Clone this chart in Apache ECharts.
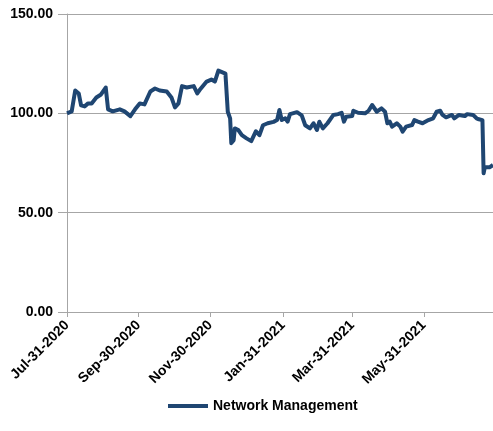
<!DOCTYPE html>
<html>
<head>
<meta charset="utf-8">
<script src="https://cdn.jsdelivr.net/npm/echarts@6/dist/echarts.min.js"></script>
<style>
  html, body { margin: 0; padding: 0; background: #fff; }
  #chart { width: 493px; height: 431px; }
</style>
</head>
<body>
<div id="chart"></div>
<script>
const seriesName = 'Network Management';

const dates = [
  '2020-07-31', '2020-08-04', '2020-08-07', '2020-08-10', '2020-08-12', '2020-08-15',
  '2020-08-18', '2020-08-21', '2020-08-25', '2020-08-29', '2020-09-02', '2020-09-04',
  '2020-09-08', '2020-09-14', '2020-09-18', '2020-09-23', '2020-09-27', '2020-10-01',
  '2020-10-05', '2020-10-10', '2020-10-14', '2020-10-18', '2020-10-24', '2020-10-28',
  '2020-10-31', '2020-11-03', '2020-11-06', '2020-11-10', '2020-11-16', '2020-11-19',
  '2020-11-21', '2020-11-27', '2020-12-01', '2020-12-04', '2020-12-07', '2020-12-08',
  '2020-12-11', '2020-12-13', '2020-12-15', '2020-12-17', '2020-12-18', '2020-12-20',
  '2020-12-21', '2020-12-24', '2020-12-27', '2020-12-31', '2021-01-04', '2021-01-08',
  '2021-01-11', '2021-01-14', '2021-01-18', '2021-01-23', '2021-01-26', '2021-01-28',
  '2021-01-30', '2021-02-02', '2021-02-04', '2021-02-06', '2021-02-12', '2021-02-16',
  '2021-02-19', '2021-02-23', '2021-02-26', '2021-03-01', '2021-03-03', '2021-03-06',
  '2021-03-10', '2021-03-15', '2021-03-19', '2021-03-22', '2021-03-24', '2021-03-26',
  '2021-03-31', '2021-04-01', '2021-04-05', '2021-04-11', '2021-04-14', '2021-04-17',
  '2021-04-21', '2021-04-25', '2021-04-28', '2021-04-30', '2021-05-02', '2021-05-04',
  '2021-05-08', '2021-05-11', '2021-05-13', '2021-05-16', '2021-05-21', '2021-05-23',
  '2021-05-26', '2021-05-30', '2021-06-04', '2021-06-08', '2021-06-11', '2021-06-14',
  '2021-06-16', '2021-06-19', '2021-06-24', '2021-06-26', '2021-06-30', '2021-07-05',
  '2021-07-07', '2021-07-12', '2021-07-15', '2021-07-17', '2021-07-20', '2021-07-21',
  '2021-07-22', '2021-07-26', '2021-07-29'
];

const values = [
  100.0, 101.0, 111.5, 110.0, 104.0, 103.5,
  105.0, 105.0, 108.0, 109.5, 113.0, 102.0,
  101.0, 102.0, 101.0, 98.6, 102.0, 105.0,
  104.5, 111.0, 112.5, 111.5, 111.0, 108.0,
  103.0, 105.0, 113.7, 113.0, 113.7, 110.0,
  111.7, 116.0, 117.0, 116.0, 121.5, 122.0,
  120.5, 120.0, 100.8, 97.5, 85.0, 86.5,
  92.4, 91.6, 89.0, 87.4, 86.0, 91.0,
  89.0, 94.0, 95.0, 95.7, 96.6, 101.7,
  96.6, 97.5, 95.8, 99.6, 100.6, 99.0,
  94.0, 92.4, 95.0, 91.6, 95.8, 92.4,
  95.0, 99.2, 99.6, 100.3, 95.8, 98.3,
  98.6, 101.3, 100.3, 100.0, 101.3, 104.2,
  100.8, 102.5, 100.8, 95.0, 95.8, 93.3,
  95.0, 93.3, 90.8, 93.3, 94.1, 96.6,
  95.8, 95.0, 96.6, 97.5, 100.8, 101.3,
  99.2, 98.0, 99.2, 97.5, 99.2, 98.6,
  99.6, 99.2, 97.5, 97.0, 96.6, 69.8,
  72.8, 72.8, 74.0
];

const tickDates = ['2020-07-31', '2020-09-30', '2020-11-30', '2021-01-31', '2021-03-31', '2021-05-31'];
const startDate = '2020-07-31';
const endDate = '2021-07-29';

const monthNames = ['Jan', 'Feb', 'Mar', 'Apr', 'May', 'Jun', 'Jul', 'Aug', 'Sep', 'Oct', 'Nov', 'Dec'];

function toTs(s) {
  return +new Date(s + 'T00:00:00');
}

function fmtDate(ts) {
  const d = new Date(ts);
  const dd = String(d.getDate()).padStart(2, '0');
  return monthNames[d.getMonth()] + '-' + dd + '-' + d.getFullYear();
}

const tickTs = tickDates.map(toTs);
const lineData = dates.map(function (d, i) { return [toTs(d), values[i]]; });

const chart = echarts.init(document.getElementById('chart'));

const option = {
  animation: false,
  textStyle: { fontFamily: '"Liberation Sans", Arial, sans-serif' },
  grid: { left: 67, right: 0, top: 14, bottom: 119, containLabel: false },
  legend: {
    data: [seriesName],
    left: 163,
    top: 394,
    icon: 'rect',
    itemWidth: 40,
    itemHeight: 4,
    itemGap: 4,
    textStyle: { color: '#000', fontSize: 14, fontWeight: 'bold', fontFamily: '"Liberation Sans", Arial, sans-serif' }
  },
  xAxis: {
    // timestamps on a value axis, so the ticks can sit on the month-end dates
    type: 'value',
    min: toTs(startDate),
    max: toTs(endDate),
    axisLine: { show: true, onZero: false, lineStyle: { color: '#a6a6a6', width: 1 } },
    axisTick: { show: true, length: 5, customValues: tickTs, lineStyle: { color: '#a6a6a6' } },
    axisLabel: {
      customValues: tickTs,
      rotate: 45,
      margin: 11,
      color: '#000',
      fontSize: 14,
      fontWeight: 'bold',
      formatter: function (v) { return fmtDate(v); }
    },
    splitLine: { show: false }
  },
  yAxis: {
    type: 'value',
    min: 0,
    max: 150,
    interval: 50,
    axisLine: { show: true, lineStyle: { color: '#a6a6a6', width: 1 } },
    axisTick: { show: true, length: 9, lineStyle: { color: '#a6a6a6' } },
    axisLabel: {
      margin: 14,
      color: '#000',
      fontSize: 14,
      fontWeight: 'bold',
      formatter: function (v) { return v.toFixed(2); }
    },
    splitLine: { show: true, lineStyle: { color: '#a6a6a6', width: 1 } }
  },
  series: [
    {
      name: seriesName,
      type: 'line',
      data: lineData,
      showSymbol: false,
      symbol: 'none',
      color: '#1f4672',
      lineStyle: { color: '#1f4672', width: 4, join: 'round' }
    }
  ]
};

chart.setOption(option);
</script>
</body>
</html>
